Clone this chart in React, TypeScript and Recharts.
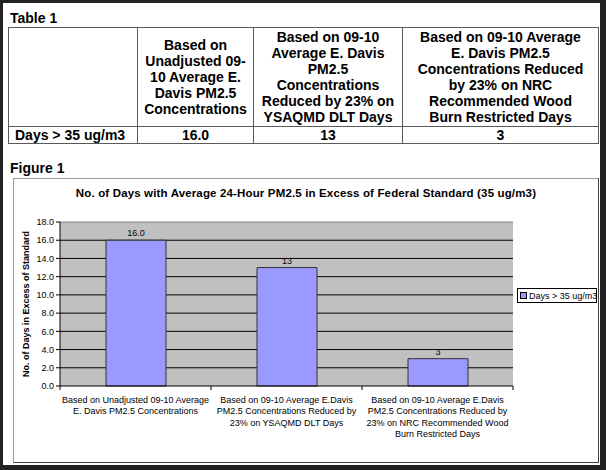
import React from 'react';
import { BarChart, Bar, XAxis, YAxis, CartesianGrid, LabelList, Legend, ReferenceLine } from 'recharts';

const tableTitle = 'Table 1';
const figureTitle = 'Figure 1';
const rowLabel = 'Days > 35 ug/m3';
const seriesName = 'Days > 35 ug/m3';
const chartTitle = 'No. of Days with Average 24-Hour PM2.5 in Excess of Federal Standard (35 ug/m3)';
const yAxisTitle = 'No. of Days in Excess of Standard';

const tableHeaders = [
  ['Based on', 'Unadjusted 09-', '10 Average E.', 'Davis PM2.5', 'Concentrations'],
  ['Based on 09-10', 'Average E. Davis', 'PM2.5', 'Concentrations', 'Reduced by 23% on', 'YSAQMD DLT Days'],
  ['Based on 09-10 Average', 'E. Davis PM2.5', 'Concentrations Reduced', 'by 23% on NRC', 'Recommended Wood', 'Burn Restricted Days'],
];

const categories = [
  ['Based on Unadjusted 09-10 Average', 'E. Davis PM2.5 Concentrations'],
  ['Based on 09-10 Average E.Davis', 'PM2.5 Concentrations Reduced by', '23% on YSAQMD DLT Days'],
  ['Based on 09-10 Average E.Davis', 'PM2.5 Concentrations Reduced by', '23% on NRC Recommended Wood', 'Burn Restricted Days'],
];
const values = [16, 13, 3];
const valueLabels = ['16.0', '13', '3'];
const yTicks = [0, 2, 4, 6, 8, 10, 12, 14, 16, 18];

const FONT = "'Liberation Sans', Arial, Helvetica, sans-serif";

const data = categories.map((c, i) => ({ name: c.join('\n'), value: values[i], label: valueLabels[i] }));

// layout
const CW = 584;
const CH = 283;
const M_TOP = 43;
const M_RIGHT = 85;
const Y_W = 46;
const X_H = 76;
const bandWidth = (CW - Y_W - M_RIGHT) / categories.length;

const colX = [8, 137, 253, 402, 598];
const rowY = [27, 126, 143];
const BORDER = '#5a5a5a';

function Cell({ c, r, children, align = 'center' }: any) {
  return (
    <div
      style={{
        position: 'absolute',
        left: colX[c],
        top: rowY[r],
        width: colX[c + 1] - colX[c] + 1,
        height: rowY[r + 1] - rowY[r] + 1,
        border: `1px solid ${BORDER}`,
        boxSizing: 'border-box',
        display: 'flex',
        flexDirection: 'column',
        justifyContent: 'center',
        alignItems: align === 'left' ? 'flex-start' : 'center',
        paddingLeft: align === 'left' ? 6 : 0,
        fontWeight: 'bold',
        fontSize: 14,
        lineHeight: '16px',
        color: '#000',
        textAlign: 'center',
        whiteSpace: 'nowrap',
      }}
    >
      {children}
    </div>
  );
}

function XTick(props: any) {
  const { x, y, payload, index } = props;
  const lines = String(payload.value).split('\n');
  return (
    <g>
      <line x1={x + bandWidth / 2} x2={x + bandWidth / 2} y1={y} y2={y + 4} stroke="#000" />
      {index === 0 && <line x1={x - bandWidth / 2} x2={x - bandWidth / 2} y1={y} y2={y + 4} stroke="#000" />}
      <text x={x} y={y + 16.5} textAnchor="middle" fontSize={9} fill="#000">
        {lines.map((l, i) => (
          <tspan key={i} x={x} dy={i === 0 ? 0 : 11.5}>
            {l}
          </tspan>
        ))}
      </text>
    </g>
  );
}

function LegendBox(props: any) {
  const p = props.payload && props.payload[0];
  const label = p ? p.value : seriesName;
  const color = p && p.color ? p.color : '#9999ff';
  return (
    <div
      style={{
        border: '1px solid #000',
        background: '#fff',
        width: 80,
        height: 15,
        boxSizing: 'border-box',
        display: 'flex',
        alignItems: 'center',
        fontSize: 9,
        color: '#000',
        whiteSpace: 'nowrap',
        fontFamily: FONT,
      }}
    >
      <span
        style={{
          display: 'inline-block',
          flexShrink: 0,
          width: 5,
          height: 5,
          background: color,
          border: '1px solid #000',
          margin: '0 2px 0 2px',
        }}
      />
      {label}
    </div>
  );
}

export default function App() {
  return (
    <div
      style={{
        position: 'absolute',
        left: 0,
        top: 0,
        width: 606,
        height: 470,
        background: '#222',
        overflow: 'hidden',
        fontFamily: FONT,
      }}
    >
      <div style={{ position: 'absolute', left: 3, top: 3, width: 597, height: 462, background: '#fff' }} />

      <div style={{ position: 'absolute', left: 10, top: 10, fontSize: 14, lineHeight: '16px', fontWeight: 'bold', color: '#000' }}>
        {tableTitle}
      </div>

      <Cell c={0} r={0} />
      {tableHeaders.map((h, i) => (
        <Cell key={i} c={i + 1} r={0}>
          {h.map((l, j) => (
            <div key={j}>{l}</div>
          ))}
        </Cell>
      ))}
      <Cell c={0} r={1} align="left">
        {rowLabel}
      </Cell>
      {valueLabels.map((v, i) => (
        <Cell key={i} c={i + 1} r={1}>
          {v}
        </Cell>
      ))}

      <div style={{ position: 'absolute', left: 10, top: 160, fontSize: 14, lineHeight: '16px', fontWeight: 'bold', color: '#000' }}>
        {figureTitle}
      </div>

      <div
        style={{
          position: 'absolute',
          left: 13,
          top: 178,
          width: 586,
          height: 285,
          boxSizing: 'border-box',
          borderTop: '1px solid #9a9a9a',
          borderLeft: '1px solid #9a9a9a',
          borderRight: '1px solid #404040',
          borderBottom: '1px solid #404040',
          background: '#fff',
        }}
      >
        <BarChart width={CW} height={CH} data={data} margin={{ top: M_TOP, right: M_RIGHT, left: 0, bottom: 0 }}>
          <CartesianGrid
            vertical={false}
            stroke="#000"
            fill="#c0c0c0"
            fillOpacity={1}
            horizontalValues={yTicks.filter((v) => v > 0 && v < 18)}
          />
          <ReferenceLine y={18} stroke="#808080" />
          <XAxis
            dataKey="name"
            height={X_H}
            interval={0}
            tickLine={false}
            tickSize={0}
            tickMargin={0}
            axisLine={{ stroke: '#000' }}
            tick={<XTick />}
          />
          <YAxis
            width={Y_W}
            domain={[0, 18]}
            ticks={yTicks}
            interval={0}
            tickFormatter={(v: number) => v.toFixed(1)}
            tickSize={4}
            tickMargin={2}
            axisLine={{ stroke: '#000' }}
            tickLine={{ stroke: '#000' }}
            tick={{ fontSize: 9, fill: '#000' }}
            label={{
              value: yAxisTitle,
              angle: -90,
              position: 'insideLeft',
              offset: 12,
              style: { textAnchor: 'middle', fontWeight: 'bold', fontSize: 9, fill: '#000' },
            }}
          />
          <Legend
            layout="vertical"
            align="center"
            verticalAlign="middle"
            wrapperStyle={{ left: 503, top: 109, width: 80, height: 15 }}
            content={<LegendBox />}
          />
          <Bar dataKey="value" name={seriesName} fill="#9999ff" stroke="#333" strokeWidth={1} barSize={60} isAnimationActive={false}>
            <LabelList dataKey="label" position="top" offset={4} fontSize={9} fill="#000" />
          </Bar>
        </BarChart>
        <div
          style={{
            position: 'absolute',
            left: 0,
            top: 7,
            width: '100%',
            textAlign: 'center',
            fontSize: 11.5,
            lineHeight: '14px',
            fontWeight: 'bold',
            letterSpacing: 0.15,
            color: '#000',
            whiteSpace: 'nowrap',
          }}
        >
          {chartTitle}
        </div>
      </div>
    </div>
  );
}
